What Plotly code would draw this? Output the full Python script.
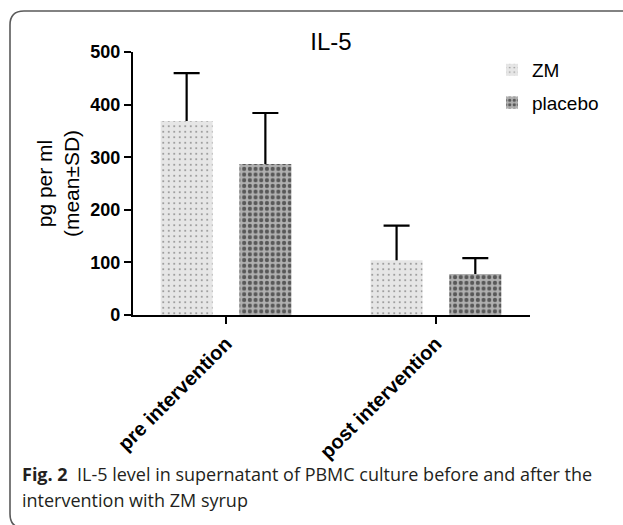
import plotly.graph_objects as go

categories = ["pre intervention", "post intervention"]
series_names = ["ZM", "placebo"]
zm_mean = [369, 104]
zm_sd = [91, 66]
placebo_mean = [287, 78]
placebo_sd = [97, 30]
y_ticks = [0, 100, 200, 300, 400, 500]

W, H = 623, 525
L, R, T, B = 133, 93, 52, 210
PW, PH = W - L - R, H - T - B


def px(x):
    return (x - L) / PW


def py(y):
    return (H - B - y) / PH


zm_pattern = dict(shape=".", fgcolor="#2a2a2a", bgcolor="#e6e6e6", size=5.5, solidity=0.09)
pl_pattern = dict(shape=".", fgcolor="black", bgcolor="#b0b0b0", size=5.7, solidity=0.42)

fig = go.Figure()
# error-bar carriers (drawn underneath the visible bars so only the upper half shows)
for name, mean, sd, grp in [(series_names[0], zm_mean, zm_sd, "zm"),
                            (series_names[1], placebo_mean, placebo_sd, "pl")]:
    fig.add_trace(go.Bar(
        x=categories, y=mean, name=name, offsetgroup=grp, showlegend=False,
        marker=dict(color="rgba(0,0,0,0)", line=dict(width=0)),
        error_y=dict(type="data", array=sd, symmetric=True,
                     color="black", thickness=2.2, width=13),
        hoverinfo="skip",
    ))

fig.add_trace(go.Bar(
    x=categories, y=zm_mean, name=series_names[0], legendgroup="a", offsetgroup="zm",
    marker=dict(color="#e6e6e6", line=dict(width=0), pattern=zm_pattern),
))
fig.add_trace(go.Bar(
    x=categories, y=placebo_mean, name=series_names[1], legendgroup="b", offsetgroup="pl",
    marker=dict(color="#b0b0b0", line=dict(width=0), pattern=pl_pattern),
))

# rounded frame
x0, x1 = px(10), px(660)
y0, y1 = py(11), py(528)
rx, ry = 14 / PW, 14 / PH
path = (f"M{x1},{y1} L{x0 + rx},{y1} Q{x0},{y1} {x0},{y1 + ry} "
        f"L{x0},{y0 - ry} Q{x0},{y0} {x0 + rx},{y0} L{x1},{y0}")
fig.add_shape(type="path", path=path, xref="paper", yref="paper",
              line=dict(color="#5a5a5a", width=1.6), layer="below")

fig.add_annotation(x=px(20), y=py(474), xref="paper", yref="paper",
                   xanchor="left", yanchor="middle", showarrow=False,
                   text="<b>Fig. 2</b>  IL-5 level in supernatant of PBMC culture before and after the",
                   font=dict(family="Open Sans", size=18, color="#231f20"))
fig.add_annotation(x=px(20), y=py(500), xref="paper", yref="paper",
                   xanchor="left", yanchor="middle", showarrow=False,
                   text="intervention with ZM syrup",
                   font=dict(family="Open Sans", size=18, color="#231f20"))

fig.update_layout(
    width=W, height=H,
    margin=dict(l=L, r=R, t=T, b=B),
    paper_bgcolor="white", plot_bgcolor="white",
    font=dict(family="Arial, Liberation Sans", color="black"),
    title=dict(text="IL-5", x=px(331), xref="paper", xanchor="center",
               y=1 - 42 / H, yref="container", yanchor="middle",
               font=dict(size=24, color="black")),
    barmode="group", bargap=0.25, bargroupgap=0.34,
    showlegend=True,
    legend=dict(x=px(492), y=py(51), xanchor="left", yanchor="top",
                font=dict(size=19, color="black"), traceorder="grouped",
                tracegroupgap=5, bgcolor="rgba(0,0,0,0)"),
    xaxis=dict(range=[-0.443, 1.448], showline=True, linecolor="black", linewidth=2.2,
               ticks="outside", ticklen=7, tickwidth=2, tickcolor="black",
               tickangle=-45, tickfont=dict(size=20, color="black", weight="bold"),
               showgrid=False, zeroline=False),
    yaxis=dict(range=[0, 500], tickvals=y_ticks, showline=True, linecolor="black",
               linewidth=2.2, ticks="outside", ticklen=7, tickwidth=2, tickcolor="black",
               tickfont=dict(size=18, color="black", weight="bold"),
               showgrid=False, zeroline=False,
               title=dict(text="pg per ml<br>(mean±SD)", font=dict(size=21, color="black"),
                          standoff=5)),
)

fig.write_html("out.html", config={"displayModeBar": False},
               post_script="document.body.style.margin='0';")
